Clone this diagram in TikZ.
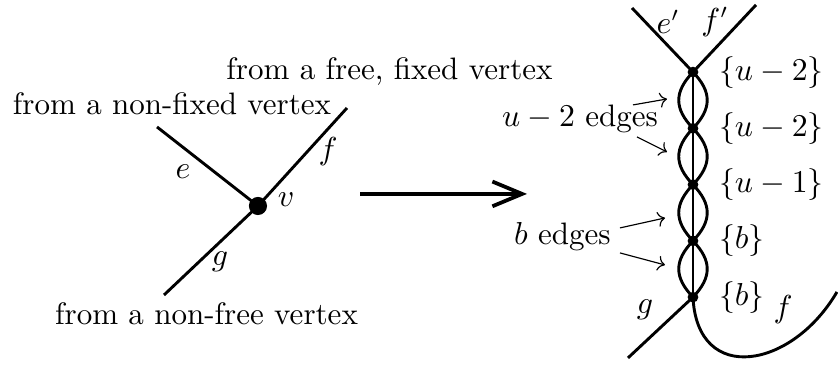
\documentclass[tikz,border=0pt]{standalone}
\usetikzlibrary{arrows.meta,positioning}

\begin{document}
\begin{tikzpicture}[
    every node/.style={font=\fontsize{10.7}{13}\selectfont},
    edge/.style={line width=1pt},
    bigdot/.style={circle, fill, inner sep=0pt, minimum size=0.22cm},
    smalldot/.style={circle, fill, inner sep=0pt, minimum size=0.13cm}]
    % --- 参数 ---
    \def\chainX{8.4}      % 右侧链的横坐标
    \def\chainTop{3.55}   % 链最上面顶点的高度
    \def\chainStep{0.682} % 相邻顶点的间距
    \def\lensW{0.23}      % 控制点的水平偏移（决定透镜宽度）
    \def\lensH{0.24}      % 控制点的竖直偏移

    \useasboundingbox (0,0) rectangle (10.158,4.424);

    % --- 左图：顶点 v ---
    \node[bigdot] (v) at (3.127,1.927) {};
    \coordinate (eEnd) at (1.903,2.885);
    \coordinate (fEnd) at (4.206,3.115);
    \coordinate (gEnd) at (1.988,0.848);
    \draw[edge] (eEnd) -- (v.center);
    \draw[edge] (v.center) -- (fEnd);
    \draw[edge] (v.center) -- (gEnd);

    % 边和顶点的标签
    \node (eLab) at (2.218,2.339) {$e$};
    \node (fLab) at (3.976,2.582) {$f$};
    \node (gLab) at (2.667,1.248) {$g$};
    \node (vLab) at (3.467,2.0) {$v$};

    % 说明文字
    \node[anchor=base] (fixTxt) at (4.721,3.455) {from a free, fixed vertex};
    \node[anchor=base] (nfixTxt) at (2.085,3.030) {from a non-fixed vertex};
    \node[anchor=base] (nfreeTxt) at (2.503,0.485) {from a non-free vertex};

    % --- 中间的大箭头 ---
    \coordinate (arrS) at (4.364,2.073);
    \coordinate (arrE) at (6.388,2.073);
    \draw[line width=1.3pt, -{Straight Barb[length=3.6mm,width=3mm]}] (arrS) -- (arrE);

    % --- 右图：顶点链 ---
    \foreach \i in {1,...,5}
        \node[smalldot] (c\i) at (\chainX, {\chainTop-(\i-1)*\chainStep}) {};
    \draw[edge] (c1.center) -- (c5.center);
    \foreach \i/\j in {1/2,2/3,3/4,4/5} {
        \draw[edge] (c\i.center) .. controls +(-\lensW,-\lensH) and +(-\lensW,\lensH) .. (c\j.center);
        \draw[edge] (c\i.center) .. controls +(\lensW,-\lensH) and +(\lensW,\lensH) .. (c\j.center);
    }

    % 链上顶点的标签
    \foreach \i/\t in {1/u-2,2/u-2,3/u-1,4/b,5/b}
        \node[right=0.12cm of c\i] (l\i) {$\{\t\}$};

    % 上端的 e', f'
    \coordinate (epEnd) at (7.661,4.327);
    \coordinate (fpEnd) at (9.164,4.364);
    \draw[edge] (epEnd) -- (c1.center) -- (fpEnd);
    \node (epLab) at (8.097,4.158) {$e'$};
    \node (fpLab) at (8.667,4.158) {$f'$};

    % 下端的 g 和 f
    \coordinate (gpEnd) at (7.612,0.085);
    \coordinate (fcEnd) at (10.145,0.885);
    \draw[edge] (c5.center) -- (gpEnd);
    \draw[edge] (c5.center) .. controls (8.45,-0.25) and (9.6,-0.05) .. (fcEnd);
    \node (gpLab) at (7.818,0.667) {$g$};
    \node (fcLab) at (9.491,0.667) {$f$};

    % --- 重边的说明 ---
    \node[anchor=base] (uEdges) at (7.03,2.885) {$u-2$ edges};
    \node[anchor=base] (bEdges) at (6.818,1.455) {$b$ edges};
    \coordinate (uA1) at (7.673,3.152);
    \coordinate (uB1) at (8.085,3.224);
    \coordinate (uA2) at (7.721,2.764);
    \coordinate (uB2) at (8.085,2.582);
    \coordinate (bA1) at (7.515,1.661);
    \coordinate (bB1) at (8.061,1.782);
    \coordinate (bA2) at (7.515,1.358);
    \coordinate (bB2) at (8.061,1.212);
    \draw[->] (uA1) -- (uB1);
    \draw[->] (uA2) -- (uB2);
    \draw[->] (bA1) -- (bB1);
    \draw[->] (bA2) -- (bB2);

\end{tikzpicture}
\end{document}
